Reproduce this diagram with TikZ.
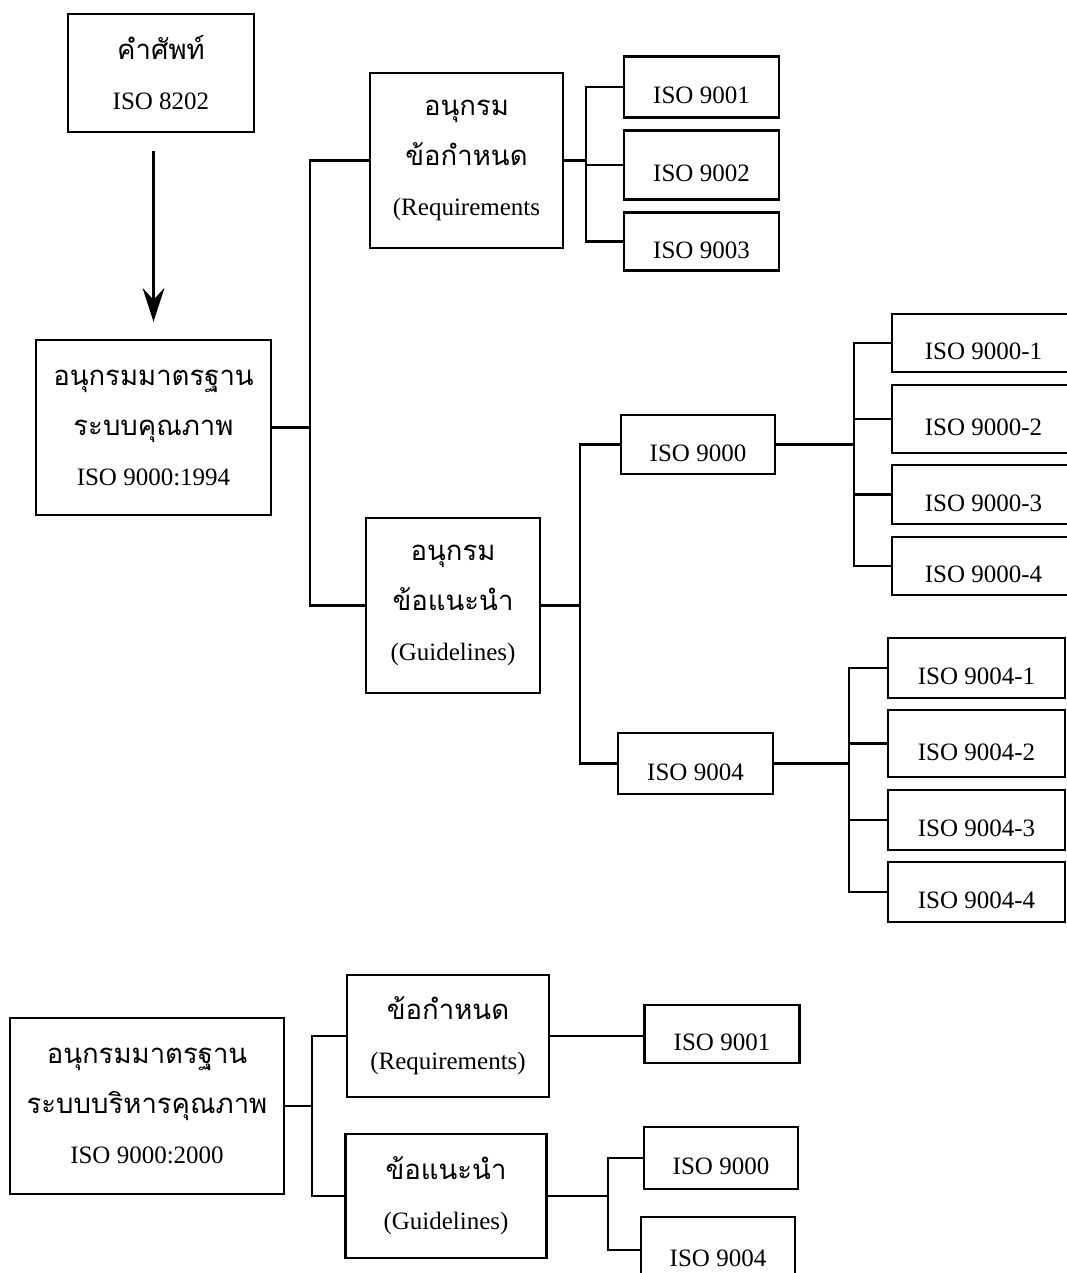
\documentclass[tikz,border=0pt]{standalone}
\usepackage{fontspec}
\setmainfont{Liberation Serif}
\newfontfamily\thai[Script=Thai,Scale=1.1]{Loma}
\usetikzlibrary{arrows.meta}

\begin{document}
\begin{tikzpicture}[x=1pt,y=-1pt,
  box/.style={draw,line width=2.4pt,inner sep=0pt,align=center,font=\fontsize{25}{50}\selectfont},
  isobox/.style={box,text height=34pt},
  link/.style={line width=2.2pt},
  arrow/.style={line width=2.2pt,-{Stealth[length=34pt,width=22pt,inset=12pt]}}]
\useasboundingbox (0,0) rectangle (1067,1273);
\clip (0,0) rectangle (1067,1273);

% ISO 9000:1994
\node[box,minimum width=186pt,minimum height=118pt] (term) at (161,73) {{\thai คำศัพท์}\\ISO 8202};
\node[box,minimum width=235pt,minimum height=175pt] (qs94) at (153.5,427.5) {{\thai อนุกรมมาตรฐาน}\\{\thai ระบบคุณภาพ}\\ISO 9000:1994};
\node[box,minimum width=193pt,minimum height=175pt] (req94) at (466.5,160.5) {{\thai อนุกรม}\\{\thai ข้อกำหนด}\\(Requirements};
\node[box,minimum width=174pt,minimum height=175pt] (guide94) at (453,605.5) {{\thai อนุกรม}\\{\thai ข้อแนะนำ}\\(Guidelines)};

% Requirements
\node[isobox,minimum width=155pt,minimum height=61pt] (r1) at (701.5,87) {ISO 9001};
\node[isobox,minimum width=155pt,minimum height=69pt] (r2) at (701.5,165) {ISO 9002};
\node[isobox,minimum width=155pt,minimum height=58pt] (r3) at (701.5,241.5) {ISO 9003};

% Guidelines
\node[isobox,minimum width=154pt,minimum height=59pt] (g0) at (698,444.5) {ISO 9000};
\node[isobox,minimum width=155pt,minimum height=61pt] (g4) at (695.5,763.5) {ISO 9004};

\node[isobox,minimum width=183pt,minimum height=58pt] (s1) at (983.5,343) {ISO 9000-1};
\node[isobox,minimum width=183pt,minimum height=68pt] (s2) at (983.5,419) {ISO 9000-2};
\node[isobox,minimum width=183pt,minimum height=59pt] (s3) at (983.5,494.5) {ISO 9000-3};
\node[isobox,minimum width=183pt,minimum height=58pt] (s4) at (983.5,566) {ISO 9000-4};

\node[isobox,minimum width=177pt,minimum height=60pt] (t1) at (976.5,668) {ISO 9004-1};
\node[isobox,minimum width=177pt,minimum height=67pt] (t2) at (976.5,743.5) {ISO 9004-2};
\node[isobox,minimum width=177pt,minimum height=60pt] (t3) at (976.5,820) {ISO 9004-3};
\node[isobox,minimum width=177pt,minimum height=60pt] (t4) at (976.5,892) {ISO 9004-4};

% ISO 9000:2000
\node[box,minimum width=274pt,minimum height=176pt] (qs00) at (147,1106) {{\thai อนุกรมมาตรฐาน}\\{\thai ระบบบริหารคุณภาพ}\\ISO 9000:2000};
\node[box,minimum width=202pt,minimum height=122pt] (req00) at (448,1036) {{\thai ข้อกำหนด}\\(Requirements)};
\node[box,minimum width=201pt,minimum height=124pt] (guide00) at (446,1196) {{\thai ข้อแนะนำ}\\(Guidelines)};
\node[isobox,minimum width=155pt,minimum height=58pt] (b1) at (722,1034) {ISO 9001};
\node[isobox,minimum width=154pt,minimum height=62pt] (b0) at (721,1158) {ISO 9000};
\node[isobox,minimum width=154pt,minimum height=66pt] (b4) at (718,1250) {ISO 9004};

% Connectors
\draw[arrow,shorten <=18pt,shorten >=17pt] (qs94.north |- term.south) -- (qs94.north);

\draw[link] (qs94.east) -- ++(38,0) coordinate (j1);
\draw[link] (req94.west) -| (j1) |- (guide94.west);

\draw[link] (req94.east) -- ++(22,0) coordinate (j2);
\draw[link] (r1.west) -| (j2) |- (r3.west);
\draw[link] (j2 |- r2.west) -- (r2.west);

\draw[link] (guide94.east) -- ++(39,0) coordinate (j3);
\draw[link] (g0.west) -| (j3) |- (g4.west);

\draw[link] (g0.east) -- ++(78,0) coordinate (j4);
\draw[link] (s1.west) -| (j4) |- (s4.west);
\draw[link] (j4 |- s2.west) -- (s2.west);
\draw[link] (j4 |- s3.west) -- (s3.west);

\draw[link] (g4.east) -- ++(75,0) coordinate (j5);
\draw[link] (t1.west) -| (j5) |- (t4.west);
\draw[link] (j5 |- t2.west) -- (t2.west);
\draw[link] (j5 |- t3.west) -- (t3.west);

\draw[link] (qs00.east) -- ++(27,0) coordinate (j6);
\draw[link] (req00.west) -| (j6) |- (guide00.west);
\draw[link] (req00.east) -- (req00.east -| b1.west);

\draw[link] (guide00.east) -- ++(60,0) coordinate (j7);
\draw[link] (b0.west) -| (j7) |- (b4.west);
\end{tikzpicture}
\end{document}
